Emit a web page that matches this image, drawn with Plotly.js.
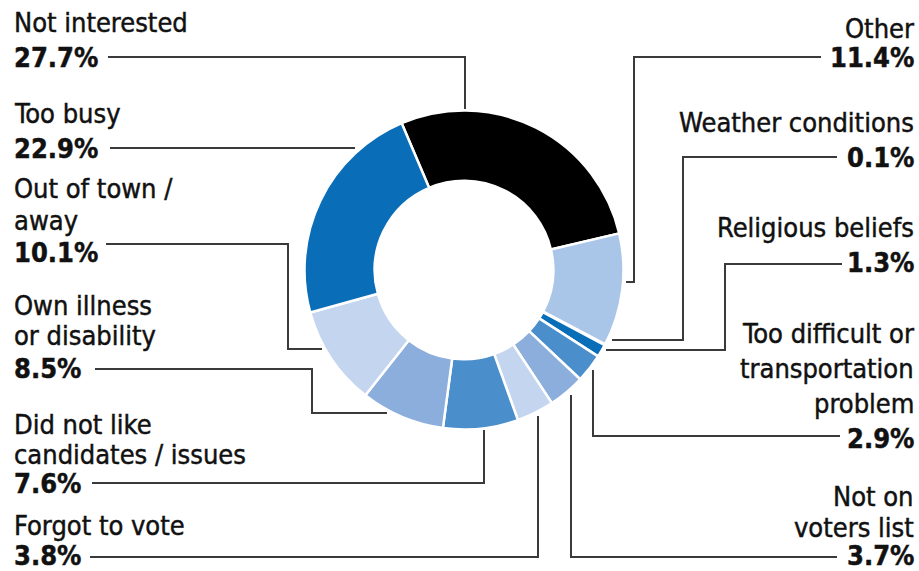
<!DOCTYPE html>
<html>
<head>
<meta charset="utf-8">
<script src="https://cdn.plot.ly/plotly-3.0.1.min.js"></script>
<style>
  html, body { margin: 0; padding: 0; background: #fff; }
  #chart { width: 919px; height: 571px; }
  #chart .annotation-text { stroke: #111; stroke-width: 0.45px; }
</style>
</head>
<body>
<div id="chart"></div>
<script>
// ---- data ----
const categories = [
  'Not interested', 'Other', 'Weather conditions', 'Religious beliefs',
  'Too difficult or transportation problem', 'Not on voters list', 'Forgot to vote',
  'Did not like candidates / issues', 'Own illness or disability', 'Out of town / away', 'Too busy'
];
const values = [27.7, 11.4, 0.1, 1.3, 2.9, 3.7, 3.8, 7.6, 8.5, 10.1, 22.9];
const labelLines = [
  ['Not interested'], ['Other'], ['Weather conditions'], ['Religious beliefs'],
  ['Too difficult or', 'transportation', 'problem'], ['Not on', 'voters list'], ['Forgot to vote'],
  ['Did not like', 'candidates / issues'], ['Own illness', 'or disability'], ['Out of town /', 'away'], ['Too busy']
];
const colors = ['#000000', '#a9c5e8', '#2a7cc4', '#0a6db8', '#4a8ecb', '#8caedc', '#c4d6ef',
                '#4a8ecb', '#8caedc', '#c4d6ef', '#0a6db8'];

// ---- layout (pixel positions) ----
const W = 919, H = 571;
const side = ['left','right','right','right','right','right','left','left','left','left','left'];
const lineY = [
  [22.5, 57.5], [28.5, 57.5], [122.5, 157.5], [227.5, 262.5],
  [333.5, 368.5, 403.5, 438.5], [496.5, 527, 555.5], [525.5, 555.5],
  [424, 454.5, 483.5], [305, 335, 368.5], [188.5, 220.5, 252.5], [113, 148.5]
];
const leaders = [
  [[108,57],[465,57],[465,109]],
  [[821,57],[634,57],[634,282],[626,282]],
  [[837,157],[683,157],[683,340],[612,340]],
  [[842,264],[725,264],[725,350],[606,350]],
  [[840,436],[593,436],[593,370]],
  [[837,557],[571,557],[571,395]],
  [[90,557],[538,557],[538,416]],
  [[92,483],[484,483],[484,430]],
  [[95,369],[312,369],[312,413],[387,413]],
  [[106,244],[288,244],[288,349],[322,349]],
  [[110,148],[355,148]]
];
const cx = 464, cy = 270, R = 159.5;
const FONT = 'DejaVu Sans Condensed, Liberation Sans Narrow, Arial Narrow, sans-serif';

const annotations = [];
const shapes = [];
categories.forEach((c, i) => {
  const lines = labelLines[i].concat(['<b>' + values[i].toFixed(1) + '%</b>']);
  lines.forEach((t, j) => {
    annotations.push({
      x: side[i] === 'left' ? 13 : 915, y: lineY[i][j], xref: 'x', yref: 'y',
      text: t, showarrow: false, xanchor: side[i], yanchor: 'middle',
      borderpad: 0, font: { family: FONT, size: 27, color: '#111' }
    });
  });
  const pts = leaders[i];
  shapes.push({
    type: 'path', xref: 'x', yref: 'y', layer: 'below',
    path: pts.map((p, k) => (k ? 'L' : 'M') + p[0] + ',' + p[1]).join(' '),
    line: { color: '#3a3a3a', width: 2 }
  });
});

const trace = {
  type: 'pie', labels: categories, values: values, sort: false,
  direction: 'clockwise', rotation: -23, hole: 0.56,
  marker: { colors: colors, line: { color: '#ffffff', width: 2.5 } },
  textinfo: 'none', hoverinfo: 'label+value', showlegend: false,
  domain: { x: [(cx - R) / W, (cx + R) / W], y: [1 - (cy + R) / H, 1 - (cy - R) / H] }
};

const layout = {
  width: W, height: H, margin: { l: 0, r: 0, t: 0, b: 0 },
  paper_bgcolor: '#fff', plot_bgcolor: 'rgba(0,0,0,0)', showlegend: false,
  xaxis: { range: [0, W], visible: false, fixedrange: true },
  yaxis: { range: [H, 0], visible: false, fixedrange: true },
  annotations: annotations, shapes: shapes
};

Plotly.newPlot('chart', [trace], layout, { displayModeBar: false, staticPlot: true });
</script>
</body>
</html>
